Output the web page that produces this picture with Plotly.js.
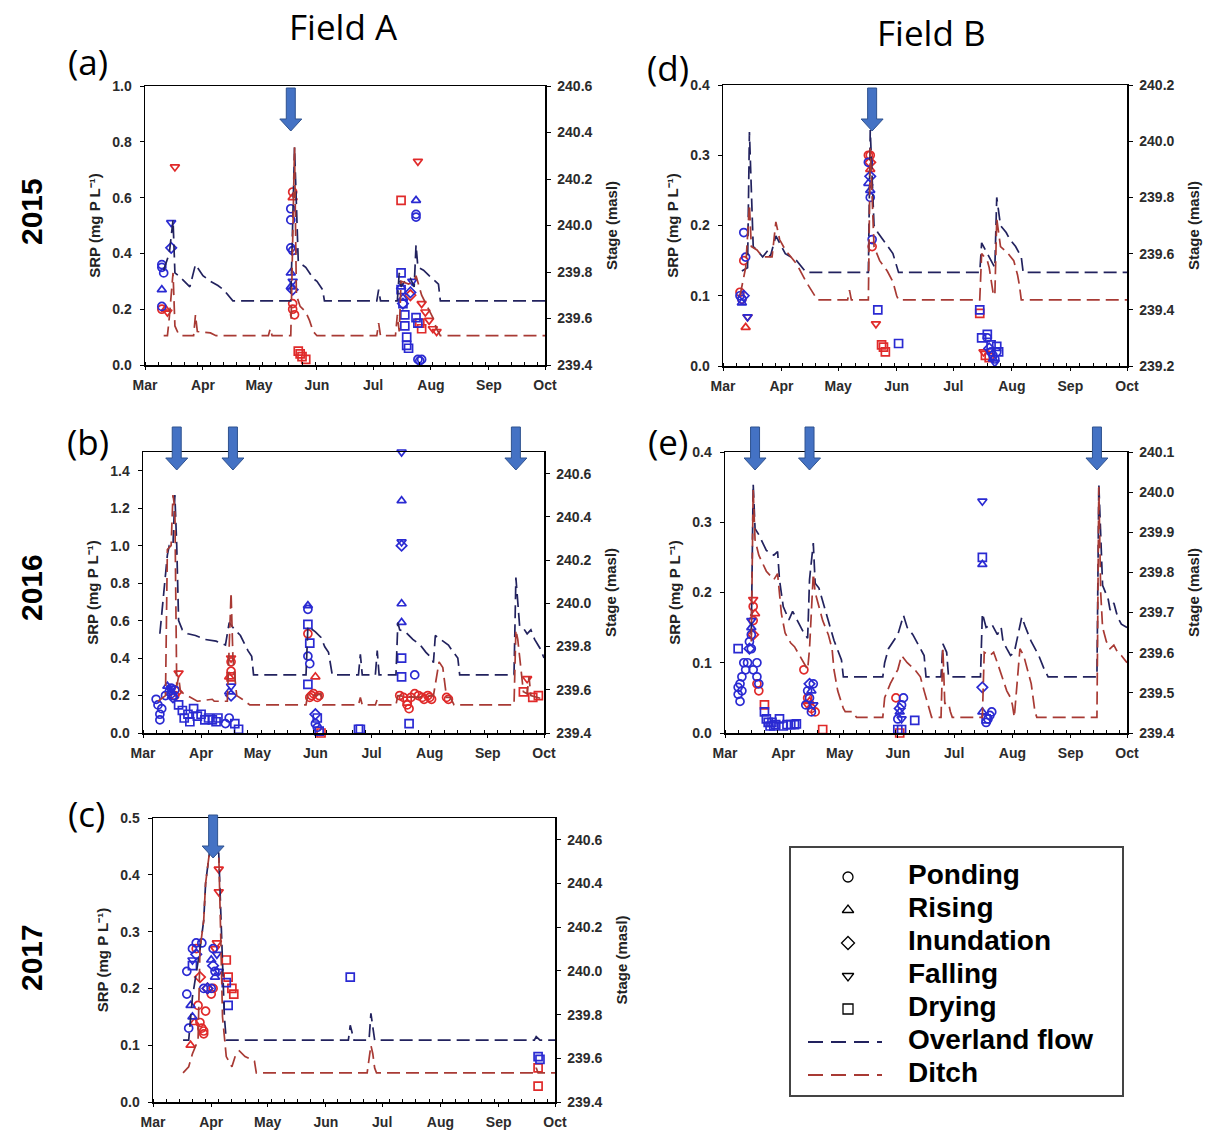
<!DOCTYPE html>
<html><head><meta charset="utf-8">
<script src="https://cdn.plot.ly/plotly-3.0.1.min.js"></script>
<style>html,body{margin:0;padding:0;background:#fff}#chart{width:1215px;height:1132px}</style>
</head><body><div id="chart"></div>
<script>
// ================= DATA =================
const monthTicks = ['03-01','04-01','05-01','06-01','07-01','08-01','09-01','10-01'];
const monthLabels = ['Mar','Apr','May','Jun','Jul','Aug','Sep','Oct'];
const phaseCodes = ['P','R','I','F','D'];
const phaseNames = ['Ponding','Rising','Inundation','Falling','Drying'];
const lineNames = ['Overland flow','Ditch'];

// ---- (a) Field A 2015 ----
const aOverDates = ['03-11','03-14','03-16','03-17','03-19','03-22','03-25','03-28','04-01','04-05','04-09','04-12','04-15','04-17','05-18','05-20','05-22','05-26','05-30','06-01','06-04','06-05','07-03','07-04','07-05','07-14','07-15','07-16','07-18','07-21','07-23','07-24','07-25','07-28','07-31','08-03','08-05','08-06','10-01'];
const aOverStage = [239.808,239.88,240.024,239.796,239.784,239.76,239.736,239.832,239.784,239.76,239.742,239.724,239.694,239.676,239.676,240.336,239.844,239.82,239.772,239.76,239.724,239.676,239.676,239.724,239.676,239.676,239.796,239.736,239.76,239.772,239.736,239.916,239.82,239.808,239.784,239.76,239.748,239.676,239.676];
const aDitchDates = ['03-11','03-13','03-14','03-16','03-17','03-19','03-21','03-27','03-28','03-29','04-05','04-08','05-06','05-07','05-08','05-18','05-20','05-21','05-23','05-26','05-28','05-30','06-01','07-03','07-04','07-05','07-13','07-14','07-15','07-16','07-20','07-23','07-24','07-27','07-30','08-02','08-04','08-06','10-01'];
const aDitchStage = [239.526,239.526,239.604,239.796,239.568,239.532,239.526,239.526,239.616,239.544,239.538,239.526,239.526,239.556,239.526,239.526,240.336,239.7,239.652,239.628,239.592,239.544,239.526,239.526,239.58,239.526,239.526,239.616,239.544,239.76,239.748,239.76,239.784,239.7,239.652,239.604,239.556,239.526,239.526];
const aOverPtDates = ['03-10','03-10','03-11','03-10','05-18','05-18','05-18','05-19','07-24','07-24','07-25','07-26','07-27','03-10','05-18','05-18','07-24','07-16','07-17','03-15','05-19','07-17','07-21','03-15','05-19','07-22','07-16','07-16','07-17','07-18','07-18','07-19','07-19','07-20','07-24','07-25'];
const aOverPtSRP = [0.36,0.35,0.33,0.21,0.56,0.52,0.42,0.41,0.54,0.53,0.02,0.015,0.02,0.27,0.33,0.28,0.59,0.28,0.24,0.42,0.27,0.22,0.26,0.51,0.30,0.30,0.33,0.27,0.22,0.18,0.14,0.10,0.07,0.06,0.17,0.15];
const aOverPtPhase = 'PPPPPPPPPPPPPRRRRRRIIIIFFFDDDDDDDDDD'.split('');
const aDitchPtDates = ['03-10','05-19','05-19','05-20','05-19','05-19','03-12','07-21','03-17','07-25','03-13','07-27','07-29','07-31','08-02','08-04','07-16','05-22','05-23','05-24','05-26','07-26','07-27'];
const aDitchPtSRP = [0.20,0.22,0.20,0.18,0.62,0.60,0.20,0.25,0.71,0.73,0.19,0.22,0.19,0.16,0.13,0.12,0.59,0.05,0.04,0.03,0.02,0.15,0.13];
const aDitchPtPhase = 'PPPPPRRIFFFFFFFFDDDDDDD'.split('');
const aArrowDates = ['05-18'];

// ---- (b) Field A 2016 ----
const bOverDates = ['03-10','03-12','03-14','03-15','03-17','03-18','03-19','03-20','03-22','03-25','03-29','04-03','04-09','04-14','04-16','04-19','04-22','04-24','04-26','04-28','04-29','05-27','05-28','06-01','06-04','06-06','06-08','06-10','06-24','06-25','06-26','07-03','07-04','07-05','07-14','07-15','07-16','07-19','07-23','07-27','07-30','08-02','08-03','08-04','08-08','08-11','08-13','08-16','08-17','09-15','09-16','09-17','09-18','09-20','09-22','09-24','09-26','09-29','10-01'];
const bOverStage = [239.859,240.05,240.223,240.267,240.267,240.501,240.267,239.92,239.877,239.859,239.851,239.833,239.825,239.807,239.911,239.877,239.851,239.816,239.781,239.755,239.669,239.669,239.894,239.868,239.842,239.799,239.773,239.669,239.669,239.764,239.669,239.669,239.781,239.669,239.669,239.911,239.877,239.868,239.833,239.807,239.773,239.747,239.725,239.851,239.825,239.807,239.781,239.747,239.669,239.669,240.119,240.007,239.894,239.885,239.859,239.877,239.833,239.79,239.747];
const bDitchDates = ['03-09','03-13','03-14','03-16','03-17','03-18','03-19','03-20','03-21','03-25','03-30','04-07','04-08','04-15','04-17','04-18','04-20','04-23','04-27','05-27','05-28','06-01','06-04','06-05','06-24','06-25','06-26','07-03','07-04','07-05','07-14','07-15','07-25','08-03','08-06','08-08','08-10','08-12','08-14','09-15','09-16','09-17','09-19','09-20','09-22','09-23','09-24','09-27','10-01'];
const bDitchStage = [239.547,239.573,240.249,240.267,240.501,240.44,239.617,239.66,239.591,239.573,239.547,239.556,239.547,239.547,240.05,239.747,239.573,239.556,239.53,239.53,239.582,239.573,239.582,239.53,239.53,239.565,239.53,239.53,239.556,239.53,239.53,239.573,239.565,239.573,239.729,239.703,239.565,239.565,239.53,239.53,239.877,239.833,239.66,239.591,239.582,239.66,239.573,239.565,239.556];
const bOverPtDates = ['03-08','03-09','03-10','03-10','03-11','03-15','03-16','03-17','04-14','04-16','05-28','05-29','05-28','06-01','06-02','07-24','03-14','04-16','05-28','07-17','07-17','07-17','03-17','04-17','07-17','06-01','03-16','04-17','07-17','07-17','03-20','03-22','03-23','03-25','03-26','03-28','03-30','04-01','04-03','04-05','04-07','04-09','04-10','04-19','04-21','05-28','05-29','05-28','06-02','06-03','06-24','06-25','07-17','07-17','07-21','03-16','03-18','03-13'];
const bOverPtSRP = [0.18,0.15,0.10,0.07,0.13,0.22,0.24,0.20,0.05,0.08,0.41,0.37,0.66,0.05,0.03,0.31,0.25,0.22,0.68,1.24,0.69,0.59,0.19,0.20,1.00,0.10,0.24,0.25,1.50,1.02,0.15,0.12,0.08,0.10,0.06,0.13,0.09,0.10,0.07,0.08,0.07,0.06,0.08,0.05,0.02,0.58,0.48,0.26,0.08,0.01,0.02,0.02,0.40,0.30,0.05,0.21,0.23,0.20];
const bOverPtPhase = 'PPPPPPPPPPPPPPPPRRRRRRIIIIFFFFDDDDDDDDDDDDDDDDDDDDDDDDDPPP'.split('');
const bDitchPtDates = ['03-18','04-17','04-17','05-28','07-20','07-21','05-30','05-31','06-02','07-22','07-26','07-29','08-01','06-01','04-16','03-19','03-20','04-17','09-22','04-17','06-04','07-20','09-20','09-25','09-28','07-16','07-18','07-24','07-28','07-31','08-02','06-03','05-29','08-10','08-11'];
const bDitchPtSRP = [0.20,0.38,0.33,0.53,0.15,0.13,0.20,0.21,0.19,0.19,0.20,0.18,0.19,0.30,0.30,0.22,0.32,0.40,0.29,0.30,0.00,0.17,0.22,0.19,0.20,0.20,0.19,0.21,0.19,0.20,0.18,0.20,0.19,0.19,0.18];
const bDitchPtPhase = 'PPPPPPPPPPPPPRRIFFFDDDDDDPPPPPPPPPP'.split('');
const bArrowDates = ['03-19','04-18','09-16'];

// ---- (c) Field A 2017 ----
const cOverDates = ['03-17','03-20','03-22','03-26','03-28','03-29','03-31','04-03','04-05','04-06','04-07','04-08','04-09','06-13','06-14','06-15','06-16','06-24','06-25','06-27','09-20','09-21','09-23','10-01'];
const cOverStage = [239.683,239.683,239.881,240.097,240.232,240.401,240.539,240.575,240.539,240.279,239.972,239.79,239.683,239.683,239.751,239.712,239.683,239.683,239.806,239.683,239.683,239.699,239.683,239.683];
const cDitchDates = ['03-17','03-20','03-22','03-25','03-26','03-28','03-29','03-31','04-03','04-05','04-06','04-07','04-09','04-12','04-14','04-16','04-19','04-22','04-24','04-25','06-23','06-25','06-26','06-27','06-28','09-20','09-21','09-22','10-01'];
const cDitchStage = [239.533,239.561,239.621,239.683,240.097,240.232,240.401,240.539,240.575,240.539,240.18,239.79,239.608,239.561,239.616,239.634,239.608,239.595,239.587,239.533,239.533,239.66,239.621,239.556,239.533,239.533,239.556,239.533,239.533];
const cOverPtDates = ['03-19','03-19','03-20','03-22','03-24','03-27','03-28','04-01','04-02','04-03','03-21','03-22','04-01','04-03','03-24','03-30','04-02','03-22','04-04','04-05','03-22','04-09','04-10','06-14','09-22','09-23'];
const cOverPtSRP = [0.23,0.19,0.13,0.27,0.28,0.28,0.20,0.20,0.27,0.23,0.17,0.15,0.25,0.22,0.26,0.20,0.24,0.25,0.26,0.23,0.24,0.21,0.17,0.22,0.08,0.075];
const cOverPtPhase = 'PPPPPPPPPPRRRRIIIFFFDDDDDD'.split('');
const cDitchPtDates = ['03-24','03-25','03-26','03-27','03-28','03-28','03-29','04-01','04-02','03-21','03-23','03-26','03-30','04-05','04-05','04-04','04-03','04-09','04-10','04-12','04-13','09-22','09-22'];
const cDitchPtSRP = [0.27,0.17,0.14,0.13,0.12,0.125,0.16,0.19,0.20,0.10,0.14,0.22,0.20,0.41,0.37,0.28,0.27,0.25,0.22,0.20,0.19,0.028,0.06];
const cDitchPtPhase = 'PPPPPPPPPRRIIFFFFDDDDDD'.split('');
const cArrowDates = ['04-02'];

// ---- (d) Field B 2015 ----
const dOverDates = ['03-11','03-14','03-15','03-17','03-19','03-22','03-25','03-26','03-29','04-03','04-09','04-14','05-17','05-18','05-20','05-22','05-26','05-30','06-02','07-15','07-16','07-19','07-21','07-23','07-24','07-26','07-29','07-31','08-03','08-05','08-06','08-07','10-01'];
const dOverStage = [239.538,239.55,240.033,239.625,239.613,239.588,239.613,239.588,239.663,239.6,239.575,239.533,239.533,240.04,239.7,239.675,239.638,239.6,239.533,239.533,239.638,239.6,239.575,239.55,239.8,239.7,239.675,239.65,239.625,239.6,239.588,239.533,239.533];
const dDitchDates = ['03-10','03-13','03-15','03-16','03-19','03-22','03-27','03-29','03-31','04-03','04-09','04-14','04-20','05-06','05-07','05-08','05-17','05-18','05-20','05-23','05-27','05-30','06-01','06-02','07-15','07-16','07-19','07-20','07-22','07-23','07-24','07-26','07-28','07-30','08-02','08-04','08-05','08-06','10-01'];
const dDitchStage = [239.45,239.55,239.775,239.625,239.613,239.588,239.588,239.713,239.65,239.613,239.563,239.5,239.435,239.435,239.47,239.435,239.435,239.975,239.625,239.575,239.538,239.5,239.45,239.435,239.435,239.6,239.575,239.55,239.463,239.45,239.725,239.625,239.613,239.6,239.575,239.525,239.488,239.435,239.435];
const dOverPtDates = ['03-10','03-11','03-12','03-13','05-17','05-18','05-19','07-19','07-21','07-22','07-23','07-24','03-11','05-17','05-18','07-22','03-12','05-18','07-20','03-14','07-23','05-22','06-02','07-15','07-16','07-19','07-21','07-24','07-25'];
const dOverPtSRP = [0.10,0.095,0.19,0.155,0.29,0.24,0.18,0.04,0.02,0.015,0.01,0.02,0.09,0.26,0.25,0.01,0.10,0.27,0.025,0.07,0.005,0.08,0.032,0.08,0.04,0.045,0.03,0.028,0.02];
const dOverPtPhase = 'PPPPPPPPPPPPRRRRIIIFFDDDDDDDD'.split('');
const dDitchPtDates = ['03-10','03-11','03-12','05-17','05-18','05-19','03-13','05-18','05-18','03-14','05-21','07-17','05-24','05-25','05-26','07-15','07-18','07-20'];
const dDitchPtSRP = [0.105,0.095,0.15,0.30,0.30,0.17,0.055,0.28,0.29,0.07,0.06,0.02,0.03,0.027,0.02,0.075,0.015,0.012];
const dDitchPtPhase = 'PPPPPPRRIFFFDDDDDD'.split('');
const dArrowDates = ['05-19'];

// ---- (e) Field B 2016 ----
const eOverDates = ['03-15','03-16','03-17','03-19','03-23','03-27','03-29','03-30','04-01','04-04','04-06','04-09','04-12','04-14','04-15','04-17','04-18','04-20','04-24','04-28','05-02','05-03','05-24','05-25','05-27','06-01','06-04','06-06','06-09','06-12','06-15','06-16','06-24','06-25','06-27','06-28','07-15','07-16','07-18','07-21','07-24','07-26','07-27','07-29','07-31','08-02','08-06','08-08','08-11','08-15','08-18','08-20','09-15','09-16','09-17','09-18','09-21','09-22','09-24','09-26','09-28','10-01'];
const eOverStage = [239.645,240.021,239.909,239.894,239.855,239.843,239.852,239.782,239.715,239.682,239.703,239.677,239.649,239.636,239.782,239.873,239.773,239.761,239.698,239.631,239.582,239.54,239.54,239.575,239.61,239.645,239.693,239.663,239.645,239.619,239.593,239.54,239.54,239.622,239.601,239.54,239.54,239.698,239.663,239.671,239.645,239.663,239.628,239.61,239.593,239.601,239.689,239.663,239.628,239.593,239.558,239.54,239.54,240.021,239.89,239.768,239.733,239.706,239.724,239.689,239.671,239.663];
const eDitchDates = ['03-15','03-16','03-17','03-19','03-23','03-27','03-29','03-31','04-02','04-05','04-07','04-10','04-12','04-14','04-15','04-17','04-18','04-20','04-22','04-25','04-27','04-28','04-30','05-03','05-04','05-08','05-10','05-24','05-25','05-28','06-01','06-03','06-06','06-10','06-13','06-15','06-17','06-19','06-24','06-25','06-26','06-28','06-29','06-30','07-16','07-17','07-20','07-22','07-24','07-26','07-29','07-31','08-01','08-02','08-05','08-07','08-09','08-11','08-12','08-13','08-14','09-15','09-16','09-17','09-18','09-20','09-22','09-24','09-26','09-28','10-01'];
const eDitchStage = [239.628,240.006,239.881,239.843,239.803,239.782,239.797,239.698,239.649,239.624,239.615,239.591,239.575,239.558,239.61,239.797,239.75,239.715,239.68,239.645,239.61,239.558,239.505,239.461,239.453,239.453,239.439,239.439,239.488,239.523,239.558,239.593,239.575,239.558,239.54,239.505,239.47,239.439,239.439,239.61,239.474,239.474,239.453,239.439,239.439,239.601,239.593,239.601,239.575,239.549,239.505,239.488,239.47,239.439,239.61,239.593,239.558,239.523,239.488,239.453,239.439,239.439,240.013,239.75,239.663,239.628,239.61,239.619,239.601,239.593,239.575];
const eOverPtDates = ['03-08','03-08','03-09','03-09','03-10','03-10','03-11','03-12','03-13','03-14','03-15','03-15','03-16','03-18','03-18','03-19','04-13','04-14','04-15','04-16','04-17','06-01','06-03','06-04','07-18','07-19','07-20','07-21','03-15','04-16','07-16','07-16','06-02','03-14','04-15','07-16','06-02','03-15','04-17','07-16','06-03','03-08','03-22','03-23','03-24','03-25','03-26','03-27','03-28','03-30','04-01','04-03','04-05','04-07','04-08','06-01','06-03','06-10','07-16','07-18'];
const eOverPtSRP = [0.065,0.055,0.07,0.045,0.06,0.08,0.10,0.09,0.10,0.13,0.14,0.12,0.09,0.10,0.08,0.07,0.04,0.06,0.05,0.03,0.07,0.02,0.04,0.05,0.015,0.02,0.025,0.03,0.15,0.06,0.24,0.03,0.03,0.12,0.07,0.065,0.035,0.16,0.04,0.33,0.02,0.12,0.03,0.02,0.015,0.01,0.015,0.01,0.012,0.02,0.01,0.012,0.012,0.012,0.013,0.005,0.005,0.018,0.25,0.02];
const eOverPtPhase = 'PPPPPPPPPPPPPPPPPPPPPPPPPPPPRRRRRIIIIFFFFDDDDDDDDDDDDDDDDDDD'.split('');
const eDitchPtDates = ['03-16','03-16','03-18','03-19','04-12','04-14','04-16','04-18','05-31','03-17','04-15','03-16','03-16','04-14','03-22','04-22','06-02'];
const eDitchPtSRP = [0.16,0.18,0.07,0.06,0.09,0.05,0.035,0.03,0.05,0.17,0.045,0.14,0.19,0.04,0.04,0.005,0.00];
const eDitchPtPhase = 'PPPPPPPPPRRIFFDDD'.split('');
const eArrowDates = ['03-17','04-15','09-15'];

// ================= STYLE / LAYOUT CONFIG =================
const W = 1215, H = 1132;
const OVER_LINE = '#22225e', DITCH_LINE = '#a83a34';
const OVER_MK = '#2a2ad2', DITCH_MK = '#e02a2a';
const SYM = {P:'circle-open', R:'triangle-up-open', I:'diamond-open', F:'triangle-down-open', D:'square-open'};
const TICKFONT = {family:'Liberation Sans, Arial, sans-serif', size:14, color:'#2b2b2b', weight:'bold'};
const TITLEFONT = {family:'Liberation Sans, Arial, sans-serif', size:15, color:'#222', weight:'bold'};
const SRP_TITLE = 'SRP (mg P L\u207B\u00B9)';
const STAGE_TITLE = 'Stage (masl)';

const panels = [
  {id:'a', year:2015, over:[aOverDates,aOverStage], ditch:[aDitchDates,aDitchStage], overPts:[aOverPtDates,aOverPtSRP,aOverPtPhase], ditchPts:[aDitchPtDates,aDitchPtSRP,aDitchPtPhase], arrows:aArrowDates,
   px:[145,545], py:[86,365], srpRange:[0,1.0], srpDtick:0.2, stageRange:[239.4,240.6], stageDtick:0.2, tipY:131},
  {id:'b', year:2016, over:[bOverDates,bOverStage], ditch:[bDitchDates,bDitchStage], overPts:[bOverPtDates,bOverPtSRP,bOverPtPhase], ditchPts:[bDitchPtDates,bDitchPtSRP,bDitchPtPhase], arrows:bArrowDates,
   px:[143,544], py:[452,733], srpRange:[0,1.5], srpDtick:0.2, stageRange:[239.4,240.7], stageDtick:0.2, tipY:470},
  {id:'c', year:2017, over:[cOverDates,cOverStage], ditch:[cDitchDates,cDitchStage], overPts:[cOverPtDates,cOverPtSRP,cOverPtPhase], ditchPts:[cDitchPtDates,cDitchPtSRP,cDitchPtPhase], arrows:cArrowDates,
   px:[153,555], py:[818,1102], srpRange:[0,0.5], srpDtick:0.1, stageRange:[239.4,240.7], stageDtick:0.2, tipY:858},
  {id:'d', year:2015, over:[dOverDates,dOverStage], ditch:[dDitchDates,dDitchStage], overPts:[dOverPtDates,dOverPtSRP,dOverPtPhase], ditchPts:[dDitchPtDates,dDitchPtSRP,dDitchPtPhase], arrows:dArrowDates,
   px:[723,1127], py:[85,366], srpRange:[0,0.4], srpDtick:0.1, stageRange:[239.2,240.2], stageDtick:0.2, tipY:131},
  {id:'e', year:2016, over:[eOverDates,eOverStage], ditch:[eDitchDates,eDitchStage], overPts:[eOverPtDates,eOverPtSRP,eOverPtPhase], ditchPts:[eDitchPtDates,eDitchPtSRP,eDitchPtPhase], arrows:eArrowDates,
   px:[725,1127], py:[452,733], srpRange:[0,0.4], srpDtick:0.1, stageRange:[239.4,240.1], stageDtick:0.1, tipY:470}
];

const traces = [];
const layout = {
  width:W, height:H, margin:{l:0,r:0,t:0,b:0}, paper_bgcolor:'#fff', plot_bgcolor:'rgba(0,0,0,0)',
  showlegend:false, shapes:[], annotations:[], font:{family:'Liberation Sans, Arial, sans-serif', size:14, color:'#000'}
};

const dts = (year, arr) => arr.map(d => year + '-' + d);
const ARROW_PATH = 'M-4.5,43 L4.5,43 L4.5,12 L11,12 L0,0 L-11,12 L-4.5,12 Z';

panels.forEach((p, i) => {
  const n = i + 1;
  const xId = n === 1 ? 'x' : 'x' + n;
  const yLnum = 2 * n - 1, yRnum = 2 * n;
  const yL = yLnum === 1 ? 'y' : 'y' + yLnum, yR = 'y' + yRnum;
  const xKey = 'xaxis' + (n === 1 ? '' : n), yLKey = 'yaxis' + (yLnum === 1 ? '' : yLnum), yRKey = 'yaxis' + yRnum;
  const xd = [p.px[0] / W, p.px[1] / W];
  const yd = [1 - p.py[1] / H, 1 - p.py[0] / H];

  layout[xKey] = {
    domain: xd, anchor: yL, type: 'date', range: [p.year + '-03-01', p.year + '-10-01'],
    tickmode: 'array', tickvals: dts(p.year, monthTicks), ticktext: monthLabels,
    ticks: 'outside', ticklen: 3, tickcolor: '#000', tickwidth: 1,
    minor: {ticks: 'inside', ticklen: 3, tickcolor: '#000', dtick: 7 * 86400000, tick0: p.year + '-03-01', showgrid: false},
    showline: true, linecolor: '#000', linewidth: 1.5, mirror: true,
    showgrid: false, zeroline: false, tickfont: TICKFONT, ticklabelstandoff: 4, automargin: false, fixedrange: true
  };
  layout[yLKey] = {
    domain: yd, anchor: xId, range: p.srpRange, tick0: 0, dtick: p.srpDtick, tickformat: '.1f',
    ticks: 'outside', ticklen: 4, tickcolor: '#000', showline: true, linecolor: '#000', linewidth: 1.5,
    showgrid: false, zeroline: false, tickfont: TICKFONT, ticklabelstandoff: 5, automargin: false, fixedrange: true,
    title: {text: SRP_TITLE, font: TITLEFONT, standoff: 8}
  };
  layout[yRKey] = {
    overlaying: yL, side: 'right', anchor: xId, range: p.stageRange, tick0: p.stageRange[0], dtick: p.stageDtick, tickformat: '.1f',
    ticks: 'outside', ticklen: 4, tickcolor: '#000', showline: true, linecolor: '#000', linewidth: 1.5,
    showgrid: false, zeroline: false, tickfont: TICKFONT, ticklabelstandoff: 4, automargin: false, fixedrange: true,
    title: {text: STAGE_TITLE, font: TITLEFONT, standoff: 15}
  };

  // stage lines (right axis)
  [[p.over, OVER_LINE, lineNames[0]], [p.ditch, DITCH_LINE, lineNames[1]]].forEach(([ser, col, nm]) => {
    traces.push({
      type: 'scatter', mode: 'lines', name: nm, x: dts(p.year, ser[0]), y: ser[1],
      xaxis: xId, yaxis: yR, line: {color: col, width: 1.7, dash: '13px,6px'}, hoverinfo: 'skip', showlegend: false
    });
  });

  // SRP markers (left axis), grouped by hydrologic phase
  [[p.ditchPts, DITCH_MK, 'Ditch'], [p.overPts, OVER_MK, 'Overland flow']].forEach(([pts, col, src]) => {
    phaseCodes.forEach((code, k) => {
      const idx = pts[2].map((c, j) => c === code ? j : -1).filter(j => j >= 0);
      if (!idx.length) return;
      traces.push({
        type: 'scatter', mode: 'markers', name: src + ' ' + phaseNames[k],
        x: idx.map(j => p.year + '-' + pts[0][j]), y: idx.map(j => pts[1][j]),
        xaxis: xId, yaxis: yL, cliponaxis: false,
        marker: {symbol: SYM[code], size: 8, color: col, line: {color: col, width: 1.7}},
        hoverinfo: 'x+y+name', showlegend: false
      });
    });
  });

  // event arrows
  const tipPaper = 1 - p.tipY / H;
  p.arrows.forEach(d => {
    layout.shapes.push({
      type: 'path', xref: xId, xsizemode: 'pixel', xanchor: p.year + '-' + d,
      yref: 'paper', ysizemode: 'pixel', yanchor: tipPaper,
      path: ARROW_PATH, fillcolor: '#4472c4', line: {color: '#2f528f', width: 1}, layer: 'above'
    });
  });
});

// ---------- Legend panel (own invisible axes) ----------
const LEG = {px:[791,1122], py:[848,1095]};
layout.xaxis6 = {domain:[LEG.px[0]/W, LEG.px[1]/W], anchor:'y11', range:[0, LEG.px[1]-LEG.px[0]],
  showline:true, mirror:true, linecolor:'#444', linewidth:2, showgrid:false, zeroline:false, showticklabels:false, ticks:'', fixedrange:true};
layout.yaxis11 = {domain:[1-LEG.py[1]/H, 1-LEG.py[0]/H], anchor:'x6', range:[6.606, -0.879],
  showline:true, mirror:true, linecolor:'#444', linewidth:2, showgrid:false, zeroline:false, showticklabels:false, ticks:'', fixedrange:true};
const legKeyX = 57, legTextX = 117, legLine = [17, 91];
phaseCodes.forEach((code, k) => {
  traces.push({type:'scatter', mode:'markers', x:[legKeyX], y:[k], xaxis:'x6', yaxis:'y11', hoverinfo:'skip', showlegend:false,
    marker:{symbol:SYM[code], size:10, color:'#000', line:{color:'#000', width:1.3}}});
});
[[OVER_LINE, 5], [DITCH_LINE, 6]].forEach(([col, row]) => {
  traces.push({type:'scatter', mode:'lines', x:legLine, y:[row, row], xaxis:'x6', yaxis:'y11', hoverinfo:'skip', showlegend:false,
    line:{color:col, width:2, dash:'15px,8px'}});
});
traces.push({type:'scatter', mode:'text', x:Array(7).fill(legTextX), y:[0,1,2,3,4,5,6], text:phaseNames.concat(lineNames),
  textposition:'middle right', xaxis:'x6', yaxis:'y11', hoverinfo:'skip', showlegend:false, cliponaxis:false,
  textfont:{family:'Liberation Sans, Arial, sans-serif', size:28, color:'#000', weight:'bold'}});

// ---------- text annotations ----------
const TXT = (text, x, y, font, extra) => Object.assign({text, x: x / W, y: 1 - y / H, xref:'paper', yref:'paper', showarrow:false, xanchor:'center', yanchor:'middle', font}, extra || {});
const titleFont = {family:'Open Sans, Liberation Sans, sans-serif', size:35, color:'#000'};
const yearFont = {family:'Liberation Sans, Arial, sans-serif', size:30, color:'#000', weight:'bold'};
layout.annotations.push(
  TXT('Field A', 343, 27, titleFont), TXT('Field B', 931, 33, titleFont),
  TXT('(a)', 88, 62, titleFont), TXT('(b)', 88, 441, titleFont), TXT('(c)', 86, 813, titleFont),
  TXT('(d)', 668, 68, titleFont), TXT('(e)', 668, 441, titleFont),
  TXT('2015', 31, 212, yearFont, {textangle:-90}), TXT('2016', 31, 588, yearFont, {textangle:-90}), TXT('2017', 31, 958, yearFont, {textangle:-90})
);

Plotly.newPlot('chart', traces, layout, {staticPlot:true, displayModeBar:false});
</script></body></html>
